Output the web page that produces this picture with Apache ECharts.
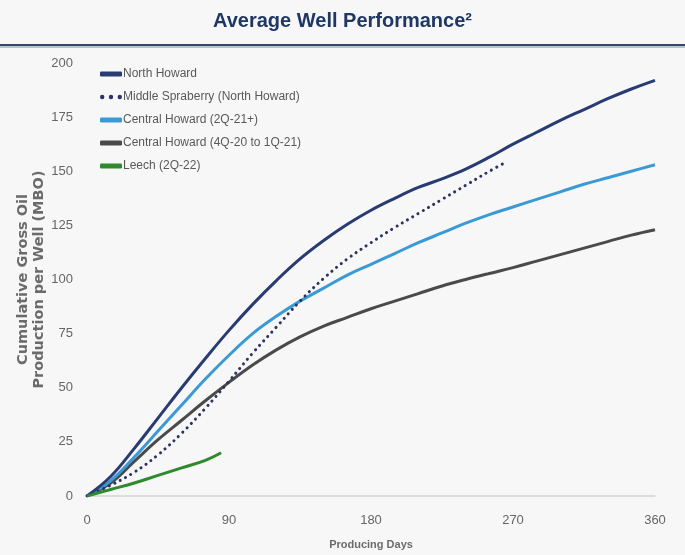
<!DOCTYPE html>
<html>
<head>
<meta charset="utf-8">
<script src="https://cdn.jsdelivr.net/npm/echarts@6/dist/echarts.min.js"></script>
<style>
  html, body { margin: 0; padding: 0; background: #f7f7f7; }
  #chart { width: 685px; height: 555px; }
</style>
</head>
<body>
<div id="chart"></div>
<script>
// Producing days (x) sampled every 15 days
const days = [0, 15, 30, 45, 60, 75, 90, 105, 120, 135, 150, 165, 180, 195, 210, 225, 240, 255, 270, 285, 300, 315, 330, 345, 360];
const spraberryDays = [0, 15, 30, 45, 60, 75, 90, 105, 120, 135, 150, 165, 180, 195, 210, 225, 240, 255, 265];
const leechDays = [0, 15, 30, 45, 60, 75, 85];

// Cumulative gross oil per well (MBO)
const northHoward = [0, 9, 22, 36, 50, 63.5, 76.5, 88.5, 99.5, 109.5, 118, 125.5, 132, 137.5, 142.5, 146.5, 151, 156.5, 162.5, 168, 173.5, 178.5, 183.5, 188, 192];
const middleSpraberry = [0, 5, 11, 19, 29, 40.5, 53, 66, 78, 90, 100.5, 109.5, 117, 124, 130.5, 137, 143.5, 150, 154];
const centralHoward2Q21 = [0, 7, 18, 30, 42, 54, 65, 75, 83, 90, 96, 102, 107, 112, 117, 121.5, 126, 130, 133.5, 137, 140.5, 144, 147, 150, 153];
const centralHoward4Q20 = [0, 6, 16, 26, 35, 44, 52.5, 60.5, 67.5, 73.5, 78.5, 82.5, 86.5, 90, 93.5, 97, 100, 102.8, 105.5, 108.5, 111.5, 114.5, 117.5, 120.5, 123];
const leech = [0, 3, 6, 9.5, 13, 16.5, 20];

const seriesNames = ['North Howard', 'Middle Spraberry (North Howard)', 'Central Howard (2Q-21+)', 'Central Howard (4Q-20 to 1Q-21)', 'Leech (2Q-22)'];

const pairs = (xs, ys) => xs.map((x, i) => [x, ys[i]]);

const font = '"Liberation Sans Narrow", "Liberation Sans", Arial, sans-serif';
const bar = 'roundRect';
const dots = 'path://M0,2A2,2 0 1,0 4,2A2,2 0 1,0 0,2Z M8,2A2,2 0 1,0 12,2A2,2 0 1,0 8,2Z M16,2A2,2 0 1,0 20,2A2,2 0 1,0 16,2Z';

const chart = echarts.init(document.getElementById('chart'), null, { renderer: 'canvas' });

const curve = (name, xs, ys, color, z, extra) => ({
  name, type: 'line', smooth: 0.4, symbol: 'none', z,
  data: pairs(xs, ys),
  lineStyle: Object.assign({ color, width: 3 }, extra || {}),
  itemStyle: { color }
});

chart.setOption({
  backgroundColor: '#f7f7f7',
  animation: false,
  title: {
    text: 'Average Well Performance²',
    left: 'center',
    top: 6,
    textStyle: { fontFamily: font, fontWeight: 'bold', fontSize: 20, color: '#1e3764' }
  },
  graphic: [
    { type: 'rect', shape: { x: 0, y: 44, width: 685, height: 2 }, style: { fill: '#34496b' } },
    { type: 'rect', shape: { x: 0, y: 46, width: 685, height: 2 }, style: { fill: '#b9c2cf' } }
  ],
  legend: {
    orient: 'vertical',
    left: 95,
    top: 62,
    itemGap: 9,
    itemWidth: 22,
    itemHeight: 5,
    data: [
      { name: seriesNames[0], icon: bar },
      { name: seriesNames[1], icon: dots },
      { name: seriesNames[2], icon: bar },
      { name: seriesNames[3], icon: bar },
      { name: seriesNames[4], icon: bar }
    ],
    textStyle: { fontFamily: font, fontSize: 12, color: '#595959', lineHeight: 14, padding: [0, 0, 0, -4] }
  },
  grid: { left: 87, right: 30, top: 63, bottom: 59, outerBoundsMode: 'none', containLabel: false },
  xAxis: {
    type: 'value',
    min: 0, max: 360, interval: 90,
    name: 'Producing Days',
    nameLocation: 'middle',
    nameGap: 43,
    nameMoveOverlap: false,
    nameTextStyle: { fontFamily: 'Liberation Sans, Arial, sans-serif', fontWeight: 'bold', fontSize: 11, color: '#6b6b6b' },
    axisLine: { lineStyle: { color: '#d4d4d4', width: 1.5 } },
    axisTick: { show: false },
    splitLine: { show: false },
    axisLabel: { fontFamily: font, fontSize: 13, color: '#666', margin: 18 }
  },
  yAxis: {
    type: 'value',
    min: 0, max: 200, interval: 25,
    name: 'Cumulative Gross Oil\nProduction per Well (MBO)',
    nameLocation: 'middle',
    nameGap: 40,
    nameMoveOverlap: false,
    nameRotate: 90,
    nameTextStyle: { fontFamily: '"DejaVu Sans", sans-serif', fontWeight: 'bold', fontSize: 14.5, color: '#6b6b6b', lineHeight: 16 },
    axisLine: { show: false },
    axisTick: { show: false },
    splitLine: { show: false },
    axisLabel: { fontFamily: font, fontSize: 13, color: '#666', margin: 14 }
  },
  series: [
    curve(seriesNames[0], days, northHoward, '#283b72', 5),
    curve(seriesNames[1], spraberryDays, middleSpraberry, '#2b3460', 4, { type: [0.1, 6], cap: 'round' }),
    curve(seriesNames[2], days, centralHoward2Q21, '#3a9ad6', 3),
    curve(seriesNames[3], days, centralHoward4Q20, '#4a4a4a', 2),
    curve(seriesNames[4], leechDays, leech, '#2e8a2c', 6)
  ]
});
</script>
</body>
</html>
